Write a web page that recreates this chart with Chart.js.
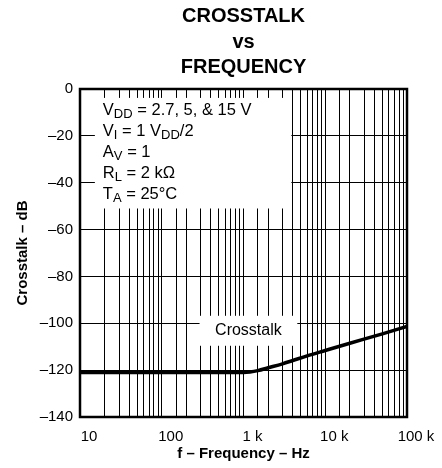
<!DOCTYPE html>
<html>
<head>
<meta charset="utf-8">
<script src="https://cdn.jsdelivr.net/npm/chart.js@4.4.1/dist/chart.umd.min.js"></script>
<style>
  body { margin: 0; background: #fff; }
  #wrap { width: 442px; height: 468px; }
</style>
</head>
<body>
<div id="wrap"><canvas id="grafico" width="442" height="468"></canvas></div>
<script>
// Dados
const frequencias = [10, 20, 50, 100, 200, 500, 1000, 1200, 1500, 2000, 3000, 4000, 6000, 10000, 20000, 50000, 100000];
const crosstalk   = [-121, -121, -121, -121, -121, -121, -121, -120.8, -120.2, -119, -117.3, -115.9, -113.9, -111.6, -108.5, -104.5, -101.3];
const rotulosX = { 10: '10', 100: '100', 1000: '1 k', 10000: '10 k', 100000: '100 k' };
const linhasTitulo = ['CROSSTALK', 'vs', 'FREQUENCY'];
// condições de teste: partes alternando texto normal e subscrito
const condicoes = [
  ['V', 'DD', ' = 2.7, 5, & 15 V'],
  ['V', 'I', ' = 1 V', 'DD', '/2'],
  ['A', 'V', ' = 1'],
  ['R', 'L', ' = 2 kΩ'],
  ['T', 'A', ' = 25°C']
];
const rotuloCurva = 'Crosstalk';

const fonte = "'Liberation Sans', Arial, sans-serif";

// Caixas brancas que escondem a grade atrás dos textos (em coordenadas de dados)
const caixaCondicoes = { x0: 15.2, x1: 3850, y0: -3.8, y1: -51 };
const caixaRotulo = { x0: 290, x1: 4550, y0: -96.8, y1: -109.6 };

const pluginExtras = {
  id: 'extras',
  beforeDatasetsDraw(chart) {
    const ctx = chart.ctx, x = chart.scales.x, y = chart.scales.y;
    ctx.save();
    ctx.fillStyle = '#fff';
    [caixaCondicoes, caixaRotulo].forEach(c => {
      const l = x.getPixelForValue(c.x0), r = x.getPixelForValue(c.x1);
      const t = y.getPixelForValue(c.y0), b = y.getPixelForValue(c.y1);
      ctx.fillRect(l, t, r - l, b - t);
    });
    ctx.restore();
  },
  afterDatasetsDraw(chart) {
    const ctx = chart.ctx, a = chart.chartArea, x = chart.scales.x, y = chart.scales.y;
    ctx.save();
    // moldura
    ctx.strokeStyle = '#000';
    ctx.lineWidth = 2.5;
    ctx.strokeRect(a.left, a.top, a.right - a.left, a.bottom - a.top);

    // texto das condições
    ctx.fillStyle = '#000';
    ctx.textBaseline = 'middle';
    ctx.textAlign = 'left';
    const x0 = x.getPixelForValue(caixaCondicoes.x0) + 8;
    condicoes.forEach((partes, i) => {
      let px = x0;
      const py = a.top + 21 + i * 21;
      partes.forEach((p, j) => {
        const sub = j % 2 === 1;
        ctx.font = (sub ? '13px ' : '16.5px ') + fonte;
        ctx.fillText(p, px, sub ? py + 4.5 : py);
        px += ctx.measureText(p).width;
      });
    });

    // rótulo da curva
    ctx.font = '16px ' + fonte;
    ctx.textAlign = 'center';
    const cx = (x.getPixelForValue(caixaRotulo.x0) + x.getPixelForValue(caixaRotulo.x1)) / 2;
    ctx.fillText(rotuloCurva, cx, y.getPixelForValue(-103));
    ctx.restore();
  }
};

const ctx = document.getElementById('grafico').getContext('2d');
new Chart(ctx, {
  type: 'line',
  data: {
    datasets: [{
      data: frequencias.map((f, i) => ({ x: f, y: crosstalk[i] })),
      borderColor: '#000',
      borderWidth: 3.5,
      pointRadius: 0,
      cubicInterpolationMode: 'monotone',
      fill: false
    }]
  },
  options: {
    responsive: false,
    animation: false,
    layout: { padding: { left: 0, right: 35, top: 0, bottom: 0 } },
    plugins: {
      legend: { display: false },
      tooltip: { enabled: false },
      title: {
        display: true,
        text: linhasTitulo,
        fullSize: false,
        color: '#000',
        font: { family: fonte, size: 20, weight: 'bold', lineHeight: 1.275 },
        padding: { top: 4, bottom: 8.5 }
      }
    },
    scales: {
      x: {
        type: 'logarithmic',
        min: 10,
        max: 100000,
        afterFit(scale) { scale.height = 51; },
        border: { display: false },
        grid: { color: '#000', lineWidth: 1, drawTicks: false },
        ticks: {
          autoSkip: false,
          maxRotation: 0,
          padding: 11,
          labelOffset: 9,
          color: '#000',
          font: { family: fonte, size: 15 },
          callback: v => rotulosX[v] || ''
        },
        title: {
          display: true,
          text: 'f – Frequency – Hz',
          color: '#000',
          font: { family: fonte, size: 15, weight: 'bold', lineHeight: 1.2 },
          padding: { top: 0, bottom: 5 }
        }
      },
      y: {
        min: -140,
        max: 0,
        afterFit(scale) { scale.width = 80; },
        border: { display: false },
        grid: { color: '#000', lineWidth: 1, drawTicks: false },
        ticks: {
          stepSize: 20,
          padding: 7,
          color: '#000',
          font: { family: fonte, size: 15 },
          callback: v => (v < 0 ? '–' + Math.abs(v) : String(v))
        },
        title: {
          display: true,
          text: 'Crosstalk – dB',
          color: '#000',
          font: { family: fonte, size: 15, weight: 'bold', lineHeight: 1.2 },
          padding: { top: 14, bottom: 0 }
        }
      }
    }
  },
  plugins: [pluginExtras]
});
</script>
</body>
</html>
